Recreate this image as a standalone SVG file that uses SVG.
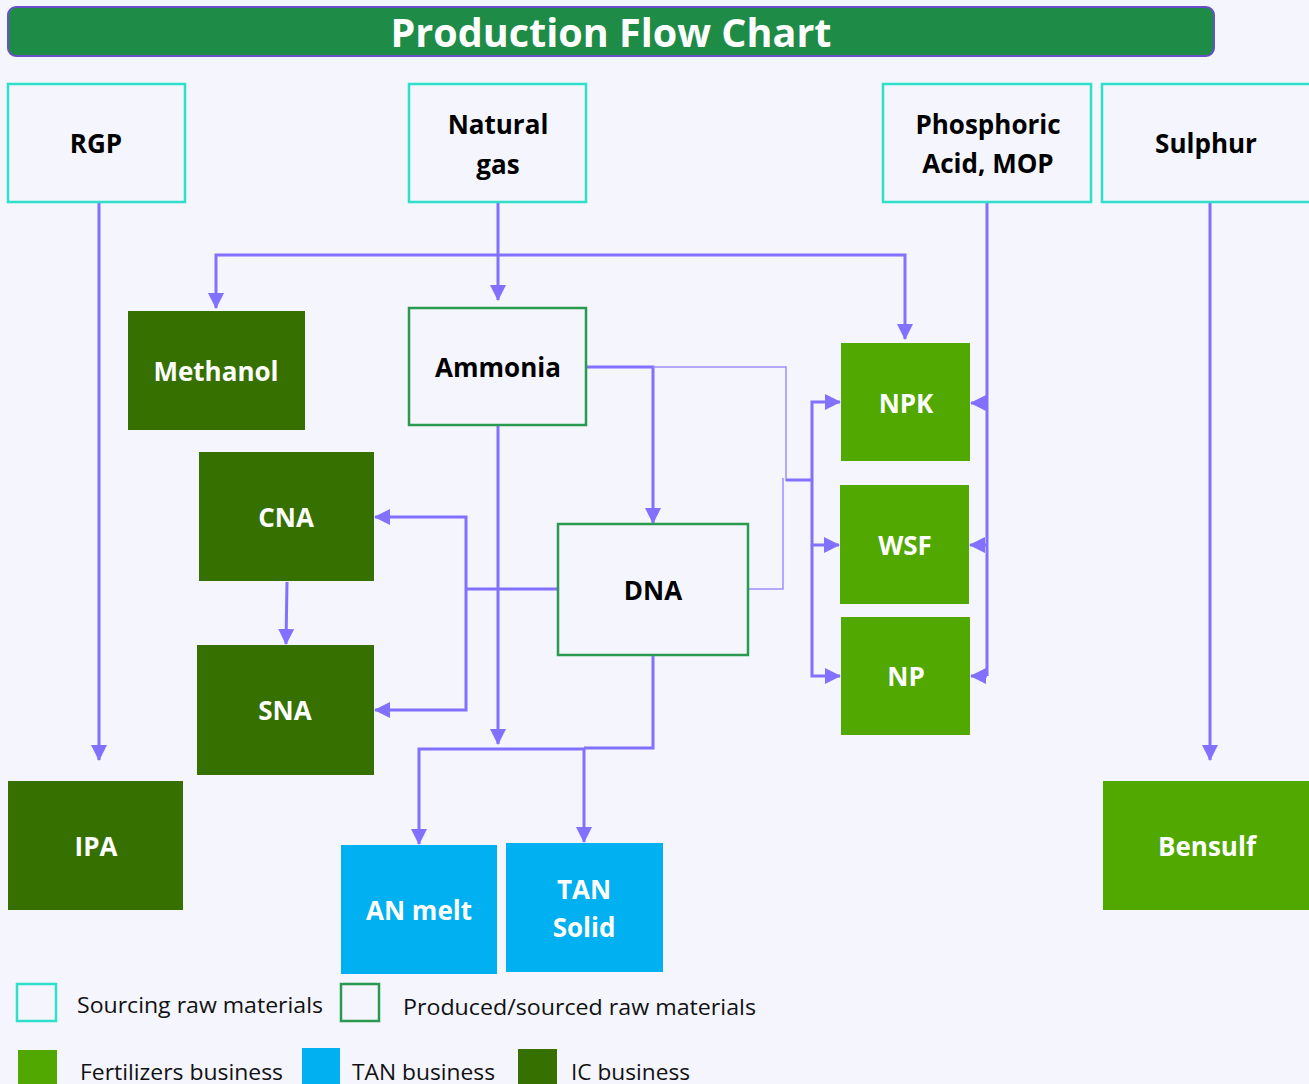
<svg xmlns="http://www.w3.org/2000/svg" width="1309" height="1084" viewBox="0 0 1309 1084">
<defs>
<style>
.src{fill:#f4f5fd;stroke:#2ee0c9;stroke-width:2.5}
.prod{fill:#f4f5fd;stroke:#2a9a4f;stroke-width:2.5}
.ic{fill:#367000}
.fert{fill:#50a800}
.tan{fill:#00b0f0}
.lblk{font-family:"Open Sans","Liberation Sans",sans-serif;font-weight:bold;font-size:26px;fill:#000;text-anchor:middle}
.lw{font-family:"Open Sans","Liberation Sans",sans-serif;font-weight:bold;font-size:26px;fill:#fff;text-anchor:middle}
.leg{font-family:"Open Sans","Liberation Sans",sans-serif;font-size:22px;fill:#111}
.c{fill:none;stroke:#8271ff;stroke-width:3}
.t{fill:none;stroke:#9d8fff;stroke-width:1.5}
</style>
<marker id="ah" markerUnits="userSpaceOnUse" markerWidth="16" markerHeight="16" viewBox="0 0 16 16" refX="15" refY="8" orient="auto">
<path d="M0,0 L16,8 L0,16 Z" fill="#8271ff"/>
</marker>
</defs>
<rect width="1309" height="1084" fill="#f4f5fd"/>
<g id="title">
<rect x="8" y="7" width="1206" height="49" rx="8" fill="#1e8c46" stroke="#6a4fc8" stroke-width="2"/>
<text x="611" y="47" font-family="'Open Sans','Liberation Sans',sans-serif" font-weight="bold" font-size="40" fill="#fff" text-anchor="middle" textLength="441" lengthAdjust="spacingAndGlyphs">Production Flow Chart</text>
</g>
<g id="connectors">
<path class="c" d="M99,202 V760" marker-end="url(#ah)"/>
<path class="c" d="M498,202 V300" marker-end="url(#ah)"/>
<path class="c" d="M498,255 H216 V308" marker-end="url(#ah)"/>
<path class="c" d="M498,255 H905 V339" marker-end="url(#ah)"/>
<path class="c" d="M987,202 V676"/>
<path class="c" d="M987,403 H971" marker-end="url(#ah)"/>
<path class="c" d="M987,545 H970" marker-end="url(#ah)"/>
<path class="c" d="M987,676 H971" marker-end="url(#ah)"/>
<path class="c" d="M1210,202 V760" marker-end="url(#ah)"/>
<path class="c" d="M586,367 H653 V523" marker-end="url(#ah)"/>
<path class="t" d="M653,367 H786 V481"/>
<path class="t" d="M748,589 H783 V478"/>
<path class="c" d="M786,480 H812"/>
<path class="c" d="M812,480 V402 H840" marker-end="url(#ah)"/>
<path class="c" d="M812,480 V545 H839" marker-end="url(#ah)"/>
<path class="c" d="M812,545 V676 H840" marker-end="url(#ah)"/>
<path class="c" d="M498,425 V744" marker-end="url(#ah)"/>
<path class="c" d="M558,589 H466"/>
<path class="c" d="M466,589 V517 H375" marker-end="url(#ah)"/>
<path class="c" d="M466,589 V710 H375" marker-end="url(#ah)"/>
<path class="c" d="M287,582 L286,644" marker-end="url(#ah)"/>
<path class="c" d="M653,655 V748 H584"/>
<path class="c" d="M584,749 H419 V844" marker-end="url(#ah)"/>
<path class="c" d="M584,748 V842" marker-end="url(#ah)"/>
</g>
<g id="rgp"><rect class="src" x="8" y="84" width="177" height="118"/><text class="lblk" x="96" y="153">RGP</text></g>
<g id="natural-gas"><rect class="src" x="409" y="84" width="177" height="118"/><text class="lblk" x="498" y="134">Natural</text><text class="lblk" x="498" y="174">gas</text></g>
<g id="phosphoric"><rect class="src" x="883" y="84" width="208" height="118"/><text class="lblk" x="988" y="134">Phosphoric</text><text class="lblk" x="988" y="173">Acid, MOP</text></g>
<g id="sulphur"><rect class="src" x="1102" y="84" width="210" height="118"/><text class="lblk" x="1206" y="153">Sulphur</text></g>
<g id="methanol"><rect class="ic" x="128" y="311" width="177" height="119"/><text class="lw" x="216" y="381">Methanol</text></g>
<g id="ammonia"><rect class="prod" x="409" y="308" width="177" height="117"/><text class="lblk" x="498" y="377">Ammonia</text></g>
<g id="cna"><rect class="ic" x="199" y="452" width="175" height="129"/><text class="lw" x="286" y="527">CNA</text></g>
<g id="sna"><rect class="ic" x="197" y="645" width="177" height="130"/><text class="lw" x="285" y="720">SNA</text></g>
<g id="dna"><rect class="prod" x="558" y="524" width="190" height="131"/><text class="lblk" x="653" y="600">DNA</text></g>
<g id="npk"><rect class="fert" x="841" y="343" width="129" height="118"/><text class="lw" x="906" y="413">NPK</text></g>
<g id="wsf"><rect class="fert" x="840" y="485" width="129" height="119"/><text class="lw" x="905" y="555">WSF</text></g>
<g id="np"><rect class="fert" x="841" y="617" width="129" height="118"/><text class="lw" x="906" y="686">NP</text></g>
<g id="ipa"><rect class="ic" x="8" y="781" width="175" height="129"/><text class="lw" x="96" y="856">IPA</text></g>
<g id="an-melt"><rect class="tan" x="341" y="845" width="156" height="129"/><text class="lw" x="419" y="920">AN melt</text></g>
<g id="tan-solid"><rect class="tan" x="506" y="843" width="157" height="129"/><text class="lw" x="584" y="899">TAN</text><text class="lw" x="584" y="937">Solid</text></g>
<g id="bensulf"><rect class="fert" x="1103" y="781" width="210" height="129"/><text class="lw" x="1207" y="856">Bensulf</text></g>
<g id="legend">
<rect x="17" y="984" width="39" height="37" fill="none" stroke="#2ee0c9" stroke-width="2.5"/>
<text class="leg" x="77" y="1013" textLength="246" lengthAdjust="spacingAndGlyphs">Sourcing raw materials</text>
<rect x="341" y="984" width="38" height="37" fill="none" stroke="#2a9a4f" stroke-width="2.5"/>
<text class="leg" x="403" y="1015" textLength="353" lengthAdjust="spacingAndGlyphs">Produced/sourced raw materials</text>
<rect class="fert" x="18" y="1050" width="39" height="34"/>
<text class="leg" x="80" y="1080" textLength="203" lengthAdjust="spacingAndGlyphs">Fertilizers business</text>
<rect class="tan" x="302" y="1048" width="38" height="36"/>
<text class="leg" x="352" y="1080" textLength="143" lengthAdjust="spacingAndGlyphs">TAN business</text>
<rect class="ic" x="518" y="1049" width="39" height="35"/>
<text class="leg" x="571" y="1080" textLength="119" lengthAdjust="spacingAndGlyphs">IC business</text>
</g>
</svg>
